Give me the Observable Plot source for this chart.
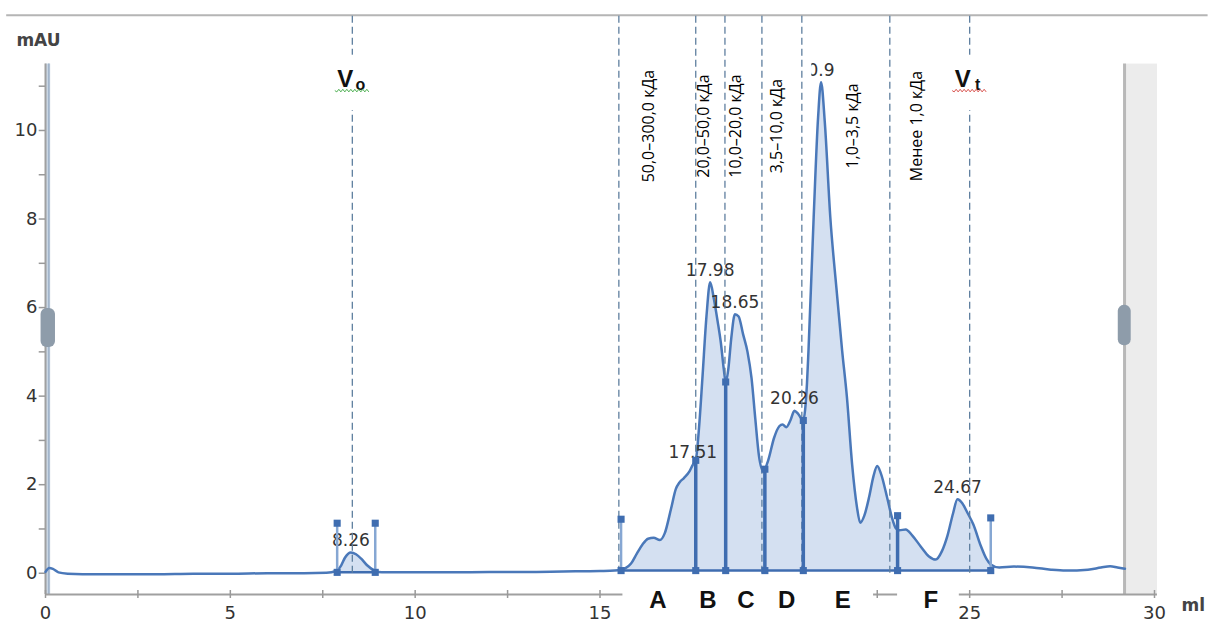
<!DOCTYPE html>
<html>
<head>
<meta charset="utf-8">
<script src="https://cdn.jsdelivr.net/npm/d3@7"></script>
<script src="https://cdn.jsdelivr.net/npm/@observablehq/plot@0.6"></script>
<style>
  body { margin: 0; background: #fff; }
</style>
</head>
<body>
<div id="chart"></div>
<script>
// Elution volume (ml) and UV absorbance (mAU) of the chromatogram trace
const volume = [0, 0.1, 0.2, 0.35, 0.6, 1, 2, 3, 4, 5, 6, 7, 7.6, 7.86, 8.0, 8.1, 8.26, 8.4, 8.54, 8.7, 8.9, 9.1,
  10, 11, 12, 13, 14, 15, 15.4, 15.57, 15.7, 15.84, 16.0, 16.15, 16.3, 16.45, 16.62, 16.75, 16.92, 17.05, 17.15,
  17.27, 17.42, 17.51, 17.59, 17.68, 17.77, 17.88, 17.98, 18.08, 18.18, 18.27, 18.35, 18.4, 18.47, 18.55, 18.65,
  18.75, 18.87, 18.99, 19.1, 19.2, 19.3, 19.42, 19.55, 19.71, 19.85, 19.94, 20.04, 20.15, 20.26, 20.36, 20.5,
  20.55, 20.6, 20.64, 20.78, 20.9, 20.98, 21.08, 21.23, 21.4, 21.55, 21.68, 21.82, 21.95, 22.04, 22.15, 22.28,
  22.4, 22.5, 22.6, 22.77, 22.9, 23.0, 23.1, 23.27, 23.45, 23.68, 23.9, 24.08, 24.25, 24.4, 24.55, 24.67, 24.8,
  24.95, 25.1, 25.3, 25.45, 25.57, 25.8, 26.2, 26.7, 27.2, 27.6, 28.2, 28.55, 28.8, 29.0, 29.2];
const absorbance = [0.03, 0.12, 0.1, 0.02, -0.01, -0.02, -0.02, -0.02, -0.01, -0.01, 0.0, 0.0, 0.01, 0.05, 0.18,
  0.35, 0.47, 0.43, 0.33, 0.18, 0.06, 0.02,
  0.02, 0.02, 0.03, 0.03, 0.04, 0.05, 0.06, 0.08, 0.12, 0.22, 0.45, 0.65, 0.78, 0.8, 0.75, 0.9, 1.45, 1.9, 2.05,
  2.15, 2.3, 2.45, 2.55, 3.3, 4.4, 5.8, 6.57, 6.2, 5.7, 5.2, 4.6, 4.32, 4.6, 5.3, 5.85,
  5.8, 5.4, 5.0, 4.4, 3.5, 2.65, 2.3, 2.55, 3.06, 3.32, 3.36, 3.3, 3.45, 3.67, 3.6, 3.45,
  3.7, 4.3, 5.03, 8.04, 10.3, 11.09, 10.2, 8.04, 6.4, 5.03, 3.97, 2.46, 1.5, 1.14, 1.3, 1.72,
  2.2, 2.42, 2.25, 1.7, 1.25, 1.02, 0.97, 0.99, 0.85, 0.6, 0.38, 0.31, 0.5, 0.85, 1.35, 1.67, 1.58,
  1.35, 1.1, 0.62, 0.33, 0.2, 0.13, 0.15, 0.13, 0.08, 0.06, 0.08, 0.13, 0.16, 0.13, 0.1];

// Labelled peaks: retention volume and peak height
const peakVolumes = [8.26, 17.51, 17.98, 18.65, 20.26, 20.98, 24.67];
const peakHeights = [0.47, 2.45, 6.57, 5.85, 3.67, 11.09, 1.67];
const peakLabels = ["8.26", "17.51", "17.98", "18.65", "20.26", "20.98", "24.67"];

// Fraction cut points (ml) and the heights of their markers (mAU)
const cutVolumes = [15.57, 17.59, 18.40, 19.46, 20.50, 23.05, 25.57];
const cutHeights = [1.22, 2.55, 4.32, 2.35, 3.45, 1.30, 1.25];
const cutMain = [false, true, true, true, true, true, false];
const voidCutVolumes = [7.89, 8.92];
const voidCutHeights = [1.13, 1.13];

// Molecular weight range boundaries (ml) and range names
const boundaryVolumes = [8.30, 15.51, 17.59, 18.38, 19.38, 20.46, 22.84, 25.00];
const rangeLabels = ["50,0–300,0 кДа", "20,0–50,0 кДа", "10,0–20,0 кДа", "3,5–10,0 кДа", "1,0–3,5 кДа", "Менее 1,0 кДа"];

// Fractions
const fractionNames = ["A", "B", "C", "D", "E", "F"];

// Void and total column volumes
const columnMarkVolumes = [8.30, 25.00];
const columnMarkSubscripts = ["o", "t"];

// Axis ticks
const xTicks = [0, 2.5, 5, 7.5, 10, 12.5, 15, 17.5, 20, 22.5, 25, 27.5, 30];
const xTickLabels = [0, 5, 10, 15, 25, 30];
const yTicks = [0, 1, 2, 3, 4, 5, 6, 7, 8, 9, 10, 11];
const yTickLabels = [0, 2, 4, 6, 8, 10];

// ---- layout ----
const rangeLabelX = [16.32, 17.81, 18.68, 19.78, 21.84, 23.57];
const fractionLabelX = [16.57, 17.92, 18.95, 20.05, 21.57, 23.95];
const yBottom = -0.48, yAxisTop = 11.5, xEnd = 30.08, rangeEnd = 29.19;
const markY = 10.98;

const curve = volume.map((v, i) => ({v, a: absorbance[i]}));
const inFractions = curve.filter(d => d.v >= cutVolumes[0] && d.v <= cutVolumes[cutVolumes.length - 1]);
const inVoid = curve.filter(d => d.v >= voidCutVolumes[0] && d.v <= voidCutVolumes[1]);
const baseLevel = 0.06;

const cuts = cutVolumes.map((v, i) => ({v, h: cutHeights[i], main: cutMain[i]}));
const voidCuts = voidCutVolumes.map((v, i) => ({v, h: voidCutHeights[i]}));

const lineBlue = "#4a78b9";
const markBlue = "#3f6db0";
const numFont = "DejaVu Sans";

const letterBoxes = [
  {x1: cutVolumes[0] + 0.05, x2: cutVolumes[5] - 0.65},
  {x1: cutVolumes[5], x2: columnMarkVolumes[1] - 0.28}
];

const plot = Plot.plot({
  width: 1208,
  height: 622,
  marginLeft: 45,
  marginRight: 54,
  marginTop: 6,
  marginBottom: 28,
  x: {domain: [0, 30], axis: null},
  y: {domain: [yBottom, 12.8], axis: null},
  style: {background: "#fff", overflow: "visible"},
  marks: [
    // top border
    Plot.ruleY([12.6], {x1: -1.05, x2: 31.45, stroke: "#b5b5b5", strokeWidth: 2}),
    // area outside the selected range
    Plot.rect([0], {x1: rangeEnd + 0.05, x2: xEnd, y1: yBottom, y2: yAxisTop, fill: "#ececec"}),
    Plot.ruleX([rangeEnd], {y1: yBottom, y2: yAxisTop, stroke: "#b8b8b8", strokeWidth: 3}),
    // left range bar
    Plot.rect([0], {x1: 0, x2: 0.14, y1: yBottom, y2: yAxisTop, fill: "#c9d6e4"}),
    Plot.ruleX([0.09], {y1: yBottom, y2: yAxisTop, stroke: "#9fb3c9", strokeWidth: 1.5}),
    Plot.ruleX([0], {y1: yBottom, y2: yAxisTop, stroke: "#a0a0a0", strokeWidth: 2}),
    // range handles
    Plot.rect([0], {x1: -0.12, x2: 0.27, y1: 5.1, y2: 5.98, fill: "#8e9caa", rx: 6}),
    Plot.rect([0], {x1: rangeEnd - 0.17, x2: rangeEnd + 0.18, y1: 5.14, y2: 6.05, fill: "#8e9caa", rx: 6}),

    // y axis ticks and labels
    Plot.ruleY(yTicks, {x1: -0.17, x2: 0, stroke: "#999", strokeWidth: 1.5}),
    Plot.text(yTickLabels, {x: 0, y: d => d, dx: -8, text: d => String(d), textAnchor: "end",
      fontSize: 18, fontFamily: numFont, fill: "#333"}),
    Plot.text(["mAU"], {x: -0.19, y: 12.03, text: d => d, fontSize: 17, fontWeight: "bold",
      fontFamily: numFont, fill: "#444"}),

    // x axis
    Plot.ruleY([yBottom], {x1: 0, x2: xEnd, stroke: "#a0a0a0", strokeWidth: 2}),
    Plot.ruleX(xTicks, {y1: yBottom - 0.09, y2: yBottom + 0.09, stroke: "#999", strokeWidth: 1.5}),
    Plot.text(xTickLabels, {x: d => d, y: yBottom, dy: 19, text: d => String(d),
      fontSize: 18, fontFamily: numFont, fill: "#333"}),
    Plot.text(["ml"], {x: 31.05, y: -0.73, text: d => d, fontSize: 17, fontWeight: "bold",
      fontFamily: numFont, fill: "#444"}),

    // filled peaks and trace
    Plot.areaY(inFractions, {x: "v", y1: baseLevel, y2: "a", fill: "#d4e0f1", curve: "monotone-x"}),
    Plot.areaY(inVoid, {x: "v", y1: 0.02, y2: "a", fill: "#d4e0f1", curve: "monotone-x"}),
    Plot.line(curve, {x: "v", y: "a", stroke: lineBlue, strokeWidth: 2.5, curve: "monotone-x"}),
    Plot.ruleY([baseLevel], {x1: cutVolumes[0], x2: cutVolumes[cutVolumes.length - 1], stroke: markBlue, strokeWidth: 2.5}),
    Plot.ruleY([0.02], {x1: voidCutVolumes[0], x2: voidCutVolumes[1], stroke: markBlue, strokeWidth: 2.5}),

    // peak labels
    Plot.text(peakLabels, {x: (d, i) => peakVolumes[i], y: (d, i) => peakHeights[i], dy: -12, text: d => d,
      fontSize: 17, fontFamily: numFont, fill: "#333"}),
    // backgrounds of the range labels
    Plot.rect(rangeLabelX, {x1: d => d - 0.47, x2: d => d + 0.95, y1: 8.5, y2: 11.8, fill: "#fff"}),

    // molecular weight boundaries
    Plot.ruleX(boundaryVolumes, {y1: 0, y2: 12.67, stroke: "#5f7f9f", strokeWidth: 1.3, strokeDasharray: "7,4"}),

    // fraction cut markers
    Plot.ruleX(cuts, {x: "v", y1: baseLevel, y2: "h", stroke: d => d.main ? markBlue : "#86a7d3",
      strokeWidth: d => d.main ? 3.5 : 2.5}),
    Plot.ruleX(voidCuts, {x: "v", y1: 0.02, y2: "h", stroke: "#86a7d3", strokeWidth: 2.5}),
    Plot.dot(cuts, {x: "v", y: "h", symbol: "square", r: 4, fill: markBlue, stroke: null}),
    Plot.dot(cuts, {x: "v", y: baseLevel, symbol: "square", r: 4, fill: markBlue, stroke: null}),
    Plot.dot(voidCuts, {x: "v", y: "h", symbol: "square", r: 4, fill: markBlue, stroke: null}),
    Plot.dot(voidCuts, {x: "v", y: 0.02, symbol: "square", r: 4, fill: markBlue, stroke: null}),

    // range names
    Plot.text(rangeLabels, {x: (d, i) => rangeLabelX[i], y: 10.1, text: d => d, rotate: -90,
      fontSize: 16, fontFamily: "Open Sans", fill: "#000"}),

    // void / total volume marks
    Plot.rect(columnMarkVolumes, {x1: d => d - 0.55, x2: d => d + 0.55, y1: 10.45, y2: 11.7, fill: "#fff"}),
    Plot.text(columnMarkVolumes, {x: d => d, y: markY, dx: -7, text: () => "V", lineAnchor: "bottom",
      fontSize: 24, fontWeight: "bold", fontFamily: "Liberation Sans", fill: "#111"}),
    Plot.text(columnMarkVolumes, {x: d => d, y: markY, dx: 8, dy: 3, text: (d, i) => columnMarkSubscripts[i],
      lineAnchor: "bottom", fontSize: 16, fontWeight: "bold", fontFamily: "Liberation Sans", fill: "#111"}),

    // fraction letters
    Plot.rect(letterBoxes, {x1: "x1", x2: "x2", y1: -1.25, y2: -0.2, fill: "#fff"}),
    Plot.text(fractionNames, {x: (d, i) => fractionLabelX[i], y: -0.62, text: d => d,
      fontSize: 24, fontWeight: "bold", fontFamily: "Liberation Sans", fill: "#111"})
  ]
});

// wavy spell-check underline beneath each column volume mark
const sx = plot.scale("x"), sy = plot.scale("y");
const squiggleColours = ["#4caf50", "#d9534f"];
const svg = d3.select(plot.tagName === "svg" ? plot : plot.querySelector("svg"));
columnMarkVolumes.forEach((v, i) => {
  const cx = sx.apply(v), base = sy.apply(markY) + 4;
  const left = cx - 17, right = cx + 16;
  let d = `M${left},${base}`;
  for (let x = left, k = 0; x < right; x += 2, k++) d += `L${x + 2},${base + (k % 2 ? -1.3 : 1.3)}`;
  svg.append("path").attr("d", d).attr("fill", "none").attr("stroke", squiggleColours[i]).attr("stroke-width", 1);
});

document.getElementById("chart").append(plot);
</script>
</body>
</html>
